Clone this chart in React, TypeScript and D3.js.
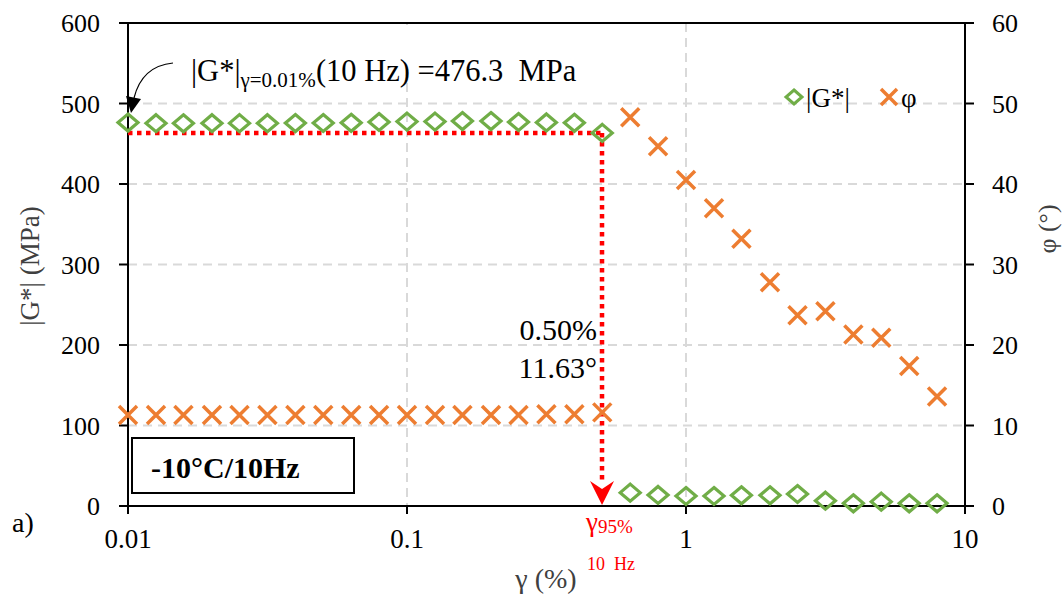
import React from "react";
import * as d3 from "d3";

const strain = [0.01, 0.0126, 0.0158, 0.02, 0.0251, 0.0316, 0.0398, 0.0501, 0.0631, 0.0794, 0.1, 0.126, 0.158, 0.2, 0.251, 0.316, 0.398, 0.501, 0.631, 0.794, 1.0, 1.26, 1.58, 2.0, 2.51, 3.16, 3.98, 5.01, 6.31, 7.94];
const gModulus = [476.3, 475.5, 475.4, 475.5, 475.6, 475.5, 475.7, 475.8, 476.0, 477.0, 477.5, 477.5, 478.2, 478.2, 477.0, 476.5, 476.0, 463.5, 16.6, 13.7, 12.4, 12.4, 13.3, 13.3, 14.9, 6.6, 3.3, 5.4, 3.3, 3.3];
const phase = [11.3, 11.3, 11.3, 11.3, 11.3, 11.3, 11.3, 11.3, 11.3, 11.3, 11.3, 11.3, 11.3, 11.3, 11.3, 11.4, 11.4, 11.63, 48.3, 44.7, 40.5, 37.0, 33.2, 27.8, 23.7, 24.2, 21.3, 20.9, 17.4, 13.6];
const xTicks = [0.01, 0.1, 1, 10];
const xTickLabels = ["0.01", "0.1", "1", "10"];
const yLeftTicks = [0, 100, 200, 300, 400, 500, 600];
const yRightTicks = [0, 10, 20, 30, 40, 50, 60];
const gAtLimit = 463.5;
const strainLimit = 0.5;

const GREEN = "#70AD47";
const ORANGE = "#ED7D31";
const RED = "#FF0000";
const GRID = "#D9D9D9";
const FONT = "'Liberation Serif', 'Times New Roman', serif";

export default function App() {
  const x = d3.scaleLog().domain([0.01, 10]).range([128, 965]);
  const yL = d3.scaleLinear().domain([0, 600]).range([506, 23]);
  const yR = d3.scaleLinear().domain([0, 60]).range([506, 23]);
  const left = x.range()[0];
  const right = x.range()[1];
  const top = yL.range()[1];
  const bottom = yL.range()[0];

  const diamond = (cx: number, cy: number, hw = 10, hh = 8.5) =>
    `M${cx},${cy - hh}L${cx + hw},${cy}L${cx},${cy + hh}L${cx - hw},${cy}Z`;
  const cross = (cx: number, cy: number, r = 9) =>
    `M${cx - r},${cy - r}L${cx + r},${cy + r}M${cx - r},${cy + r}L${cx + r},${cy - r}`;

  const xl = x(strainLimit);
  const yl = yL(gAtLimit);

  return (
    <svg width={1064} height={599} style={{ position: "absolute", left: 0, top: 0, background: "#fff", whiteSpace: "pre" }} fontFamily={FONT}>
      <rect x={0} y={0} width={1064} height={599} fill="#fff" />
      {/* gridlines */}
      {yLeftTicks.filter((t) => t > 0 && t < 600).map((t) => (
        <line key={"gy" + t} x1={left} x2={right} y1={yL(t)} y2={yL(t)} stroke={GRID} strokeWidth={2} strokeDasharray="9 6" />
      ))}
      {xTicks.filter((t) => t > 0.01 && t < 10).map((t) => (
        <line key={"gx" + t} x1={x(t)} x2={x(t)} y1={top} y2={bottom} stroke={GRID} strokeWidth={2} strokeDasharray="9 6" />
      ))}

      {/* annotation background */}
      <rect x={186} y={25} width={404} height={52} fill="#fff" />

      {/* axes */}
      <line x1={left - 9} x2={right + 9} y1={top} y2={top} stroke="#000" strokeWidth={2} />
      <line x1={left - 9} x2={right + 9} y1={bottom} y2={bottom} stroke="#000" strokeWidth={2} />
      <line x1={left} x2={left} y1={top} y2={bottom + 8} stroke="#000" strokeWidth={2} />
      <line x1={right} x2={right} y1={top} y2={bottom + 8} stroke="#000" strokeWidth={2} />
      {yLeftTicks.map((t) => (
        <g key={"yl" + t}>
          <line x1={left - 9} x2={left} y1={yL(t)} y2={yL(t)} stroke="#000" strokeWidth={2} />
          <text x={100} y={yL(t) + 9} textAnchor="end" fontSize={26}>{t}</text>
        </g>
      ))}
      {yRightTicks.map((t) => (
        <g key={"yr" + t}>
          <line x1={right} x2={right + 9} y1={yR(t)} y2={yR(t)} stroke="#000" strokeWidth={2} />
          <text x={992} y={yR(t) + 9} textAnchor="start" fontSize={26}>{t}</text>
        </g>
      ))}
      {xTicks.map((t, i) => (
        <g key={"xt" + t}>
          <line x1={x(t)} x2={x(t)} y1={bottom} y2={bottom + 8} stroke="#000" strokeWidth={2} />
          <text x={x(t)} y={548} textAnchor="middle" fontSize={27}>{xTickLabels[i]}</text>
        </g>
      ))}

      {/* axis titles */}
      <text transform="translate(39,266) rotate(-90)" textAnchor="middle" fontSize={27} fill="#404040">|G*| (MPa)</text>
      <text transform="translate(1056,229) rotate(-90)" textAnchor="middle" fontSize={26} fill="#404040">φ (°)</text>
      <text x={546} y={588} textAnchor="middle" fontSize={28} fill="#404040">γ (%)</text>
      <text x={12} y={532} fontSize={28}>a)</text>

      {/* red dotted guide lines */}
      <line x1={left} x2={xl} y1={yl} y2={yl} stroke={RED} strokeWidth={4.5} strokeDasharray="4.5 4.5" />
      <line x1={xl} x2={xl} y1={yl} y2={bottom - 22} stroke={RED} strokeWidth={4.5} strokeDasharray="4.5 4.5" />
      <path d={`M${xl},${bottom - 1}L${xl - 12},${bottom - 25}L${xl},${bottom - 17}L${xl + 12},${bottom - 25}Z`} fill={RED} />

      {/* series */}
      {strain.map((s, i) => (
        <path key={"d" + i} d={diamond(x(s), yL(gModulus[i]))} fill="none" stroke={GREEN} strokeWidth={3.2} />
      ))}
      {strain.map((s, i) => (
        <path key={"c" + i} d={cross(x(s), yR(phase[i]))} fill="none" stroke={ORANGE} strokeWidth={3.5} />
      ))}

      {/* legend */}
      <path d={diamond(794, 97, 8, 7)} fill="none" stroke={GREEN} strokeWidth={3} />
      <text x={806} y={107} fontSize={27}>|G*|</text>
      <path d={cross(889, 97, 8)} fill="none" stroke={ORANGE} strokeWidth={3.5} />
      <text x={901} y={107} fontSize={27}>φ</text>

      {/* annotation */}
      <text x={191} y={81} fontSize={30.5} style={{ whiteSpace: "pre" }}>
        |G*|<tspan fontSize={21} dy={6}>γ=0.01%</tspan><tspan dy={-6}>(10 Hz) =476.3  MPa</tspan>
      </text>
      <path d={`M173,63 Q142,66 134,98`} fill="none" stroke="#000" strokeWidth={1.2} />
      <path d={`M131,113 L126,96 L141,99 Z`} fill="#000" />

      {/* limit labels */}
      <text x={597} y={340} textAnchor="end" fontSize={30}>0.50%</text>
      <text x={597} y={378} textAnchor="end" fontSize={30}>11.63°</text>
      <text x={586} y={531} fontSize={27} fill={RED}>γ<tspan fontSize={19} dy={2}>95%</tspan></text>
      <text x={587} y={570} fontSize={18} fill={RED} style={{ whiteSpace: "pre" }}>10  Hz</text>

      {/* condition box */}
      <rect x={132} y={438} width={222} height={55} fill="#fff" stroke="#000" strokeWidth={2} />
      <text x={151} y={478} fontSize={30} fontWeight="bold">-10°C/10Hz</text>
    </svg>
  );
}
